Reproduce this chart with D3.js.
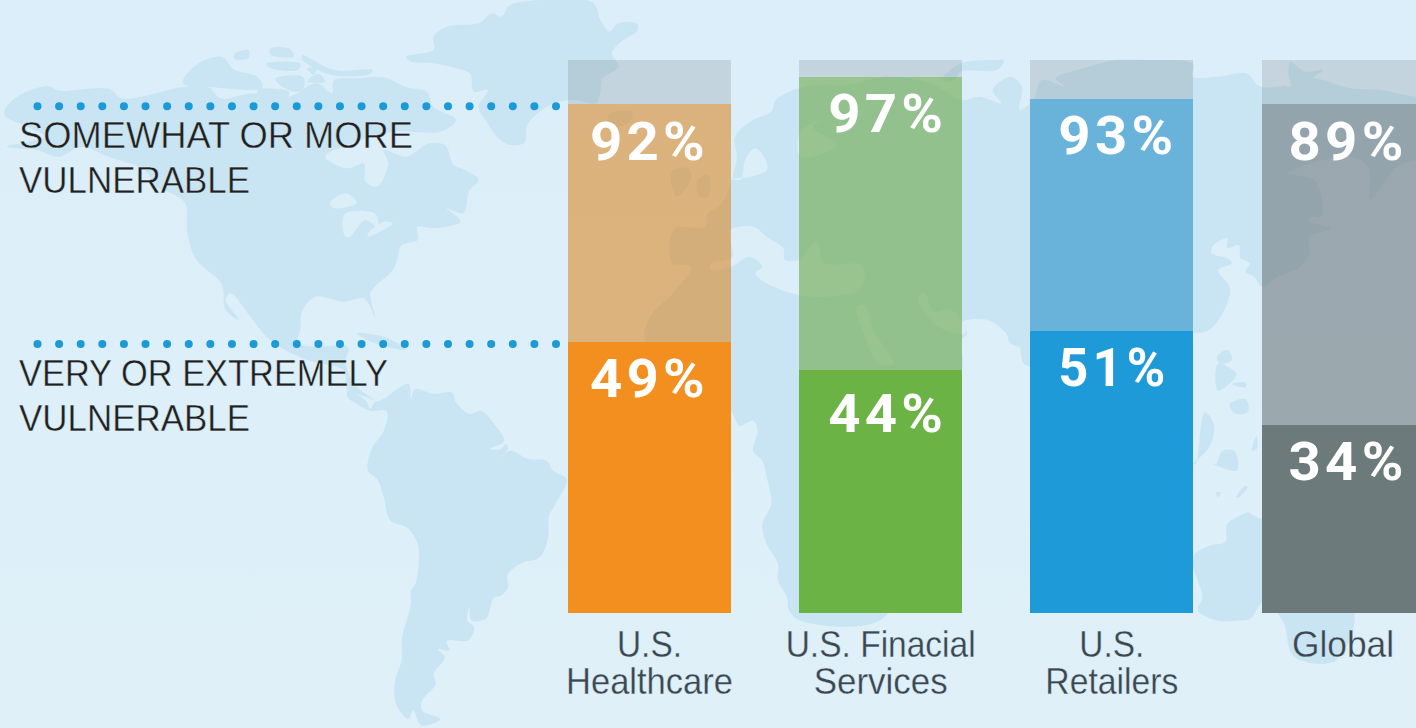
<!doctype html>
<html>
<head>
<meta charset="utf-8">
<script src="https://d3js.org/d3.v7.min.js"></script>
<style>
  html, body { margin: 0; padding: 0; background: #ddeff8; overflow: hidden; }
  svg { display: block; }
  .pct { font-family: Roboto, sans-serif; font-weight: 700; font-size: 53px; letter-spacing: 4px; fill: #fff; }
  .side { font-family: "Liberation Sans", sans-serif; font-size: 37px; fill: #231f20; stroke: #ddeff8; stroke-width: 0.4px; }
  .cat text { font-family: "Liberation Sans", sans-serif; font-size: 36.5px; fill: #3c4650; stroke: #ddeff8; stroke-width: 0.3px; }
  .bar rect { shape-rendering: crispEdges; }
</style>
</head>
<body>
<svg id="chart" width="1416" height="728"></svg>
<script>
// values
var categories = ["U.S. Healthcare", "U.S. Finacial Services", "U.S. Retailers", "Global"]
var somewhat = [92, 97, 93, 89]
var very = [49, 44, 51, 34]
// the original draws Global's pale segment up to the same level as Healthcare, not at 89
var somewhatDrawn = [92, 97, 93, 92]
var catLines = [["U.S.", "Healthcare"], ["U.S. Finacial", "Services"], ["U.S.", "Retailers"], ["Global"]]
var sideLabels = [["SOMEWHAT OR MORE", "VULNERABLE"], ["VERY OR EXTREMELY", "VULNERABLE"]]
var solidColors = ["#f38f1f", "#6bb344", "#1e9ad8", "#6d7a7b"]
var lightColors = ["#da8118", "#7fb468", "#69b2da", "#70787d"]
var lightAlpha = [0.55, 0.73, 1, 0.6]

// text widths measured on the picture, the fonts here run a bit wide
var sideWidths = [[394, 231], [369, 231]]
var catWidths = [[65, 167], [190, 134], [65, 133], [102]]
var pctInset = [22, 29, 28, 27]

// background map outline, traced on a 3136x2184 grid
var land = [
  // north america
  [[10,345],[30,298],[105,258],[130,272],[240,266],[270,295],[330,285],[400,262],[460,260],[490,295],[560,280],[640,290],[700,250],[735,280],[740,240],[790,235],[850,232],[900,262],[945,275],[960,320],[1010,360],[975,395],[870,395],[800,420],[720,470],[770,505],[805,490],[810,545],[835,560],[860,490],[850,450],[900,470],[950,430],[985,435],[1005,495],[1030,510],[1060,540],[1040,570],[1025,640],[990,625],[1020,665],[960,685],[925,680],[925,720],[890,735],[880,775],[870,810],[830,860],[820,880],[830,950],[805,895],[760,905],[700,890],[670,930],[665,990],[660,1030],[700,1040],[770,1040],[765,1090],[790,1160],[830,1200],[810,1190],[770,1170],[760,1110],[680,1080],[620,1040],[590,1010],[560,960],[510,880],[500,900],[530,960],[500,930],[490,850],[435,780],[415,700],[410,610],[380,580],[345,560],[320,510],[240,470],[180,440],[130,470],[80,450],[15,440],[100,410],[60,380]],
  // south america
  [[770,1172],[810,1202],[820,1227],[830,1207],[850,1197],[880,1167],[905,1152],[910,1197],[920,1167],[960,1182],[1000,1177],[1010,1207],[1040,1242],[1065,1232],[1100,1282],[1115,1312],[1115,1327],[1085,1347],[1110,1347],[1120,1332],[1125,1347],[1105,1372],[1130,1352],[1170,1377],[1210,1382],[1225,1412],[1255,1437],[1230,1512],[1215,1552],[1215,1602],[1205,1652],[1190,1677],[1160,1687],[1125,1722],[1125,1762],[1110,1787],[1095,1792],[1075,1857],[1045,1862],[1040,1822],[1035,1862],[1050,1882],[1035,1922],[990,1922],[995,1952],[970,1947],[985,1972],[960,2022],[965,2052],[935,2102],[935,2132],[975,2157],[935,2177],[915,2132],[905,2157],[885,2132],[875,2102],[875,2042],[890,1977],[890,1917],[910,1812],[910,1772],[920,1752],[925,1632],[900,1582],[865,1562],[850,1492],[835,1437],[815,1412],[825,1342],[850,1292],[855,1232],[820,1232],[790,1212],[770,1192]],
  // greenland
  [[900,170],[960,150],[960,110],[990,80],[1060,70],[1090,40],[1110,50],[1130,15],[1200,0],[1310,5],[1330,60],[1350,95],[1370,70],[1410,70],[1410,95],[1380,120],[1355,160],[1370,200],[1335,235],[1330,270],[1320,310],[1270,300],[1225,310],[1170,370],[1160,430],[1130,435],[1100,410],[1080,370],[1060,320],[1080,270],[1050,275],[1040,220],[1010,205],[960,190],[910,185]],
  // arctic islands
  [[405,250],[440,190],[490,170],[520,210],[570,230],[580,265],[470,262]],
  [[520,160],[550,150],[550,175],[520,178]],
  [[600,145],[640,145],[650,170],[600,165]],
  [[670,165],[740,210],[825,210],[820,222],[735,225],[670,180]],
  [[590,190],[665,190],[660,210],[600,205]],
  [[610,235],[670,230],[670,270],[650,275],[620,255]],
  [[680,205],[700,205],[695,225]],
  [[680,245],[705,222],[720,245]],
  [[570,270],[640,275],[630,300],[590,305]],
  // cuba, uk, iceland
  [[790,1000],[850,1010],[900,1050],[830,1030]],
  [[1490,510],[1525,505],[1530,540],[1500,590],[1490,570]],
  [[1545,540],[1568,525],[1568,590],[1550,590]],
  [[1350,340],[1400,335],[1390,370],[1350,380]],
  // eurasia and africa
  [[1490,790],[1495,685],[1560,680],[1568,640],[1598,610],[1620,540],[1632,470],[1628,410],[1668,360],[1708,335],[1718,300],[1768,265],[1810,255],[1880,255],[1960,230],[2060,250],[2131,300],[2170,290],[2218,310],[2198,270],[2238,230],[2263,260],[2258,330],[2288,300],[2308,240],[2358,260],[2338,235],[2398,205],[2470,180],[2535,180],[2642,190],[2642,230],[2698,230],[2758,220],[2793,260],[2858,250],[2868,230],[2930,240],[2990,265],[3060,270],[3136,290],[3250,290],[3250,450],[3100,495],[3035,600],[3030,500],[2990,470],[2880,500],[2850,520],[2910,540],[2925,650],[2905,650],[2900,665],[2948,685],[2900,710],[2900,760],[2880,800],[2830,830],[2795,860],[2778,830],[2758,815],[2768,790],[2748,775],[2743,735],[2718,745],[2718,715],[2688,735],[2683,760],[2718,775],[2728,790],[2698,810],[2723,860],[2718,910],[2678,990],[2642,1000],[2500,1000],[2400,1250],[2281,1100],[2268,1092],[2258,1010],[2263,1040],[2238,1030],[2228,1000],[2188,960],[2131,965],[2142,1000],[2130,1020],[2131,1110],[2050,1400],[1950,1860],[1773,1862],[1748,1832],[1743,1792],[1723,1742],[1723,1692],[1698,1632],[1688,1572],[1708,1512],[1698,1432],[1688,1382],[1668,1352],[1678,1292],[1668,1262],[1638,1277],[1618,1232],[1560,1200],[1430,1026],[1440,950],[1490,880],[1530,800]],
  // novaya zemlya and north pacific bits
  [[2088,240],[2128,190],[2208,180],[2223,180],[2208,210],[2128,215],[2113,240]],
  [[2858,185],[2890,215],[2930,210],[2905,235],[2885,260],[2860,250]],
  // philippines, indonesia
  [[2718,1050],[2728,1080],[2703,1092],[2695,1070]],
  [[2698,1092],[2738,1122],[2698,1172]],
  [[2728,1152],[2758,1147],[2758,1162]],
  [[2723,1212],[2758,1197],[2763,1237],[2738,1242]],
  [[2648,1392],[2668,1237],[2688,1272],[2678,1342],[2643,1392]],
  [[2698,1332],[2748,1317],[2698,1332]],
  [[2693,1392],[2708,1352],[2733,1352],[2738,1412],[2688,1392]],
  [[2773,1352],[2783,1307],[2783,1347]],
  [[2693,1477],[2703,1477],[2698,1492]],
  [[2738,1492],[2758,1457],[2763,1462],[2743,1492]],
  // australia
  [[2642,1672],[2678,1637],[2713,1627],[2718,1572],[2753,1542],[2763,1537],[2795,1557],[2830,1530],[3000,1840],[2948,1987],[2868,1972],[2840,1860],[2798,1807],[2768,1857],[2738,1862],[2698,1862],[2653,1832],[2663,1792]],
  [[2938,1972],[2963,1972],[2953,1987]]
]

// water that shows through the pale bars
var seas = [
  [[730,610],[765,580],[790,610],[740,625]],
  [[765,640],[830,640],[835,680],[810,660],[775,710],[765,710]],
  [[815,710],[870,670],[850,665],[815,700]],
  [[1575,790],[1620,775],[1618,690],[1668,680],[1698,710],[1735,745],[1738,780],[1770,780],[1808,725],[1828,790],[1908,795],[1903,870],[1833,890],[1768,885],[1698,850],[1673,820],[1688,800],[1660,770],[1620,800],[1575,810]],
  [[1655,730],[1672,740],[1660,750]],
  [[1618,535],[1663,530],[1698,510],[1692,470],[1672,445],[1650,480],[1640,540]],
  [[1773,395],[1840,345],[1800,380],[1853,435],[1800,470],[1773,470]],
  [[1898,920],[1913,915],[1938,1000],[1978,1092],[1948,1092],[1913,1000]],
  [[2033,890],[2048,880],[2068,935],[2108,930],[2138,1000],[2078,980]],
  [[2858,260],[2830,190],[2790,185],[2800,220]]
]

var svg = d3.select("#chart")

var defs = svg.append("defs")
var grad = defs.append("linearGradient").attr("id", "bg").attr("x1", 0).attr("y1", 0).attr("x2", 0).attr("y2", 1)
grad.append("stop").attr("offset", 0).attr("stop-color", "#dbeef9")
grad.append("stop").attr("offset", 1).attr("stop-color", "#dff0f8")
svg.append("rect").attr("width", 1416).attr("height", 728).attr("fill", "url(#bg)")

var outline = d3.line().curve(d3.curveCatmullRomClosed.alpha(0.5))
var map = svg.append("g").attr("transform", "scale(" + (708 / 1568) + "," + (1 / 3) + ")")
map.selectAll("path.land").data(land).enter().append("path").attr("class", "land")
  .attr("d", outline).attr("fill", "#c9e5f3")
map.selectAll("path.sea").data(seas).enter().append("path").attr("class", "sea")
  .attr("d", outline).attr("fill", "#dceef8")

var x = d3.scaleBand().domain(categories).range([568, 1424.5]).paddingInner(0.295)
var y = d3.scaleLinear().domain([0, 100]).range([613, 60])

var rows = categories.map(function(c, i) {
  return { cat: c, somewhat: somewhat[i], drawn: somewhatDrawn[i], very: very[i], i: i }
})

var bars = svg.selectAll("g.bar").data(rows).enter().append("g").attr("class", "bar")
bars.append("rect")
  .attr("x", function(d) { return x(d.cat) }).attr("width", x.bandwidth())
  .attr("y", y(100)).attr("height", function(d) { return y(d.drawn) - y(100) })
  .attr("fill", "#696c71").attr("fill-opacity", 0.2)
bars.append("rect")
  .attr("x", function(d) { return x(d.cat) }).attr("width", x.bandwidth())
  .attr("y", function(d) { return y(d.drawn) }).attr("height", function(d) { return y(d.very) - y(d.drawn) })
  .attr("fill", function(d) { return lightColors[d.i] }).attr("fill-opacity", function(d) { return lightAlpha[d.i] })
bars.append("rect")
  .attr("x", function(d) { return x(d.cat) }).attr("width", x.bandwidth())
  .attr("y", function(d) { return y(d.very) }).attr("height", function(d) { return y(0) - y(d.very) })
  .attr("fill", function(d) { return solidColors[d.i] })

var pctX = function(d) { return x(d.cat) + pctInset[d.i] }
bars.append("text").attr("class", "pct")
  .attr("x", pctX).attr("y", function(d) { return y(d.drawn) + 55.5 })
  .attr("textLength", 119).attr("lengthAdjust", "spacingAndGlyphs")
  .text(function(d) { return d.somewhat + "%" })
bars.append("text").attr("class", "pct")
  .attr("x", pctX).attr("y", function(d) { return y(d.very) + (d.very === 44 ? 62 : 55) })
  .attr("textLength", function(d) { return d.very === 51 ? 111 : 119 }).attr("lengthAdjust", "spacingAndGlyphs")
  .text(function(d) { return d.very + "%" })

// category labels
var axis = svg.append("g").attr("class", "cat").attr("transform", "translate(0,613)")
  .call(d3.axisBottom(x).tickSize(0).tickPadding(0))
axis.select(".domain").remove()
axis.selectAll(".tick text").each(function(d) {
  var k = categories.indexOf(d)
  var t = d3.select(this).text(null).attr("y", 0).attr("dy", null).attr("text-anchor", "middle")
  catLines[k].forEach(function(l, j) {
    t.append("tspan").attr("x", 0).attr("y", 44 + j * 37)
      .attr("textLength", catWidths[k][j]).attr("lengthAdjust", "spacingAndGlyphs").text(l)
  })
})

// dotted leaders hang off the first bar's two levels
var dotX = d3.scalePoint().domain(d3.range(25)).range([37.5, 556])
var leaders = svg.selectAll("g.leader").data([somewhat[0], very[0]]).enter().append("g").attr("class", "leader")
leaders.selectAll("circle").data(function(v) {
  return d3.range(25).map(function(k) { return { k: k, v: v } })
}).enter().append("circle")
  .attr("cx", function(d) { return dotX(d.k) }).attr("cy", function(d) { return y(d.v) + 2 })
  .attr("r", 4).attr("fill", "#1b9ad8")

leaders.each(function(v, i) {
  sideLabels[i].forEach(function(l, j) {
    d3.select(this).append("text").attr("class", "side")
      .attr("x", 19).attr("y", y(v) + 44 + j * 45)
      .attr("textLength", sideWidths[i][j]).attr("lengthAdjust", "spacingAndGlyphs").text(l)
  }, this)
})
</script>
</body>
</html>
